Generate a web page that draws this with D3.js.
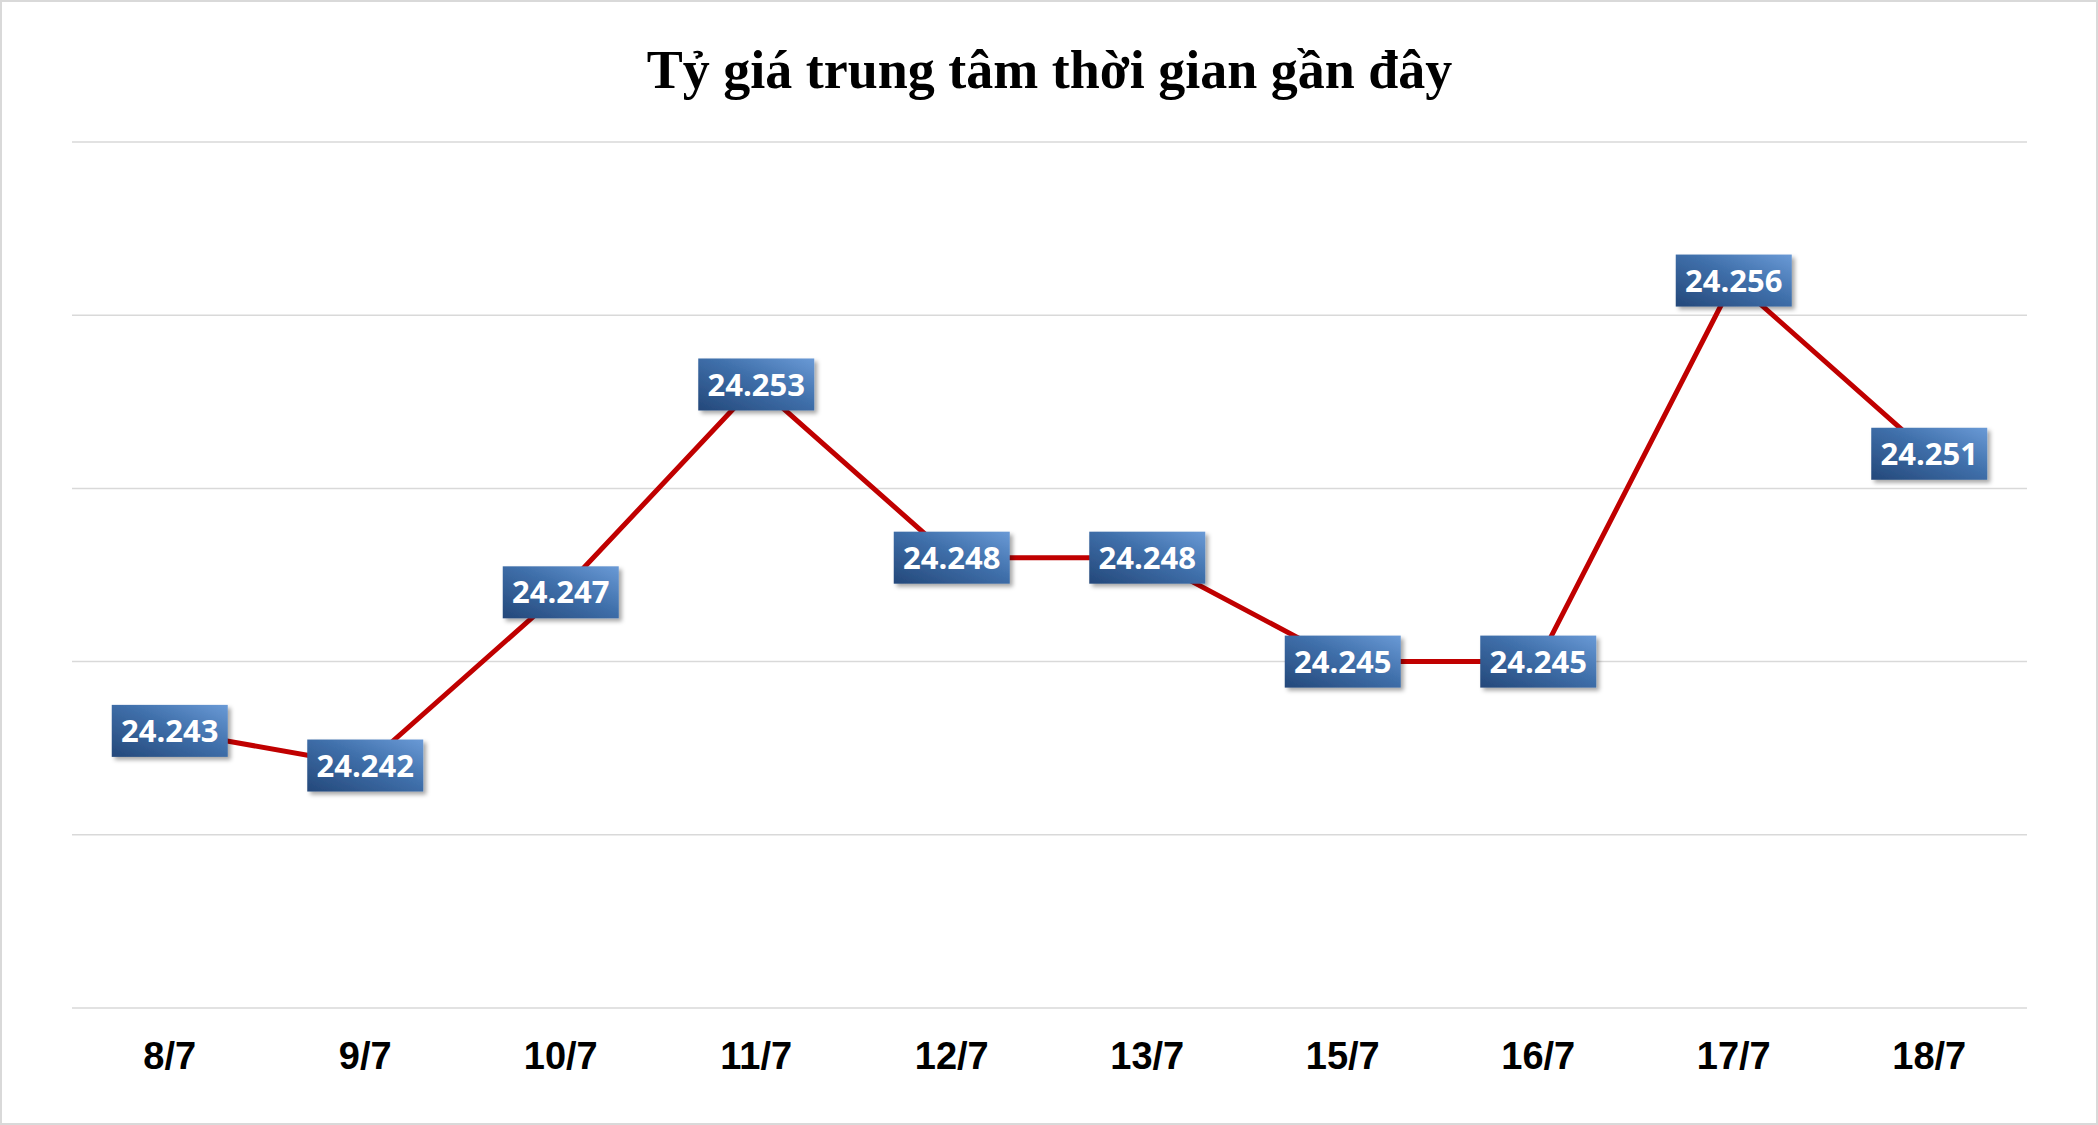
<!DOCTYPE html>
<html><head><meta charset="utf-8">
<script src="https://cdn.jsdelivr.net/npm/d3@7"></script>
<style>body{margin:0;background:#fff}</style></head>
<body><svg id="c" width="2098" height="1125"></svg>
<script>
const categories=["8/7","9/7","10/7","11/7","12/7","13/7","15/7","16/7","17/7","18/7"];
const values=[24.243,24.242,24.247,24.253,24.248,24.248,24.245,24.245,24.256,24.251];
const yTicks=[24.235,24.240,24.245,24.250,24.255,24.260];
const title="Tỷ giá trung tâm thời gian gần đây";

const svg=d3.select("#c");
const W=2098,H=1125,L=72,R=2027,T=142,B=1008;
svg.append("rect").attr("x",1).attr("y",1).attr("width",W-2).attr("height",H-2).attr("fill","#fff").attr("stroke","#d9d9d9").attr("stroke-width",2);
const defs=svg.append("defs");
const g=defs.append("linearGradient").attr("id","bg").attr("x1","0").attr("y1","1").attr("x2","1").attr("y2","0");
g.append("stop").attr("offset","0").attr("stop-color","#24487a");
g.append("stop").attr("offset","0.55").attr("stop-color","#3f6faa");
g.append("stop").attr("offset","1").attr("stop-color","#6a9ad6");
const f=defs.append("filter").attr("id","sh").attr("x","-20%").attr("y","-20%").attr("width","150%").attr("height","160%");
f.append("feDropShadow").attr("dx",3).attr("dy",3).attr("stdDeviation",2).attr("flood-color","#000").attr("flood-opacity",0.35);

const x=d3.scaleBand().domain(categories).range([L,R]);
const y=d3.scaleLinear().domain([24.235,24.260]).range([B,T]);
svg.append("g").selectAll("line").data(yTicks).join("line")
 .attr("x1",L).attr("x2",R).attr("y1",d=>y(d)).attr("y2",d=>y(d)).attr("stroke","#d9d9d9").attr("stroke-width",1.5);
svg.append("g").attr("transform",`translate(0,${B})`).call(d3.axisBottom(x).tickSize(0).tickPadding(34))
 .call(a=>a.select(".domain").remove())
 .selectAll("text").attr("font-family","Liberation Sans, Arial").attr("font-weight","bold").attr("font-size",38).attr("fill","#000");
svg.append("text").attr("x",(L+R)/2).attr("y",88).attr("text-anchor","middle")
 .attr("font-family","Liberation Serif, DejaVu Serif, serif").attr("font-weight","bold").attr("font-size",54).text(title);
const cx=d=>x(d)+x.bandwidth()/2;
svg.append("path").datum(values.map((v,i)=>[cx(categories[i]),y(v)]))
 .attr("d",d3.line()).attr("fill","none").attr("stroke","#c00000").attr("stroke-width",5);
const lab=svg.append("g").selectAll("g").data(values).join("g")
 .attr("transform",(d,i)=>`translate(${cx(categories[i])},${y(d)})`);
lab.append("rect").attr("x",-58).attr("y",-26).attr("width",116).attr("height",52).attr("fill","url(#bg)").attr("filter","url(#sh)");
lab.append("text").attr("text-anchor","middle").attr("dy","0.36em").attr("fill","#fff")
 .attr("font-family","Open Sans, sans-serif").attr("font-weight","bold").attr("font-size",31)
 .text(d=>d.toFixed(3));
</script></body></html>
